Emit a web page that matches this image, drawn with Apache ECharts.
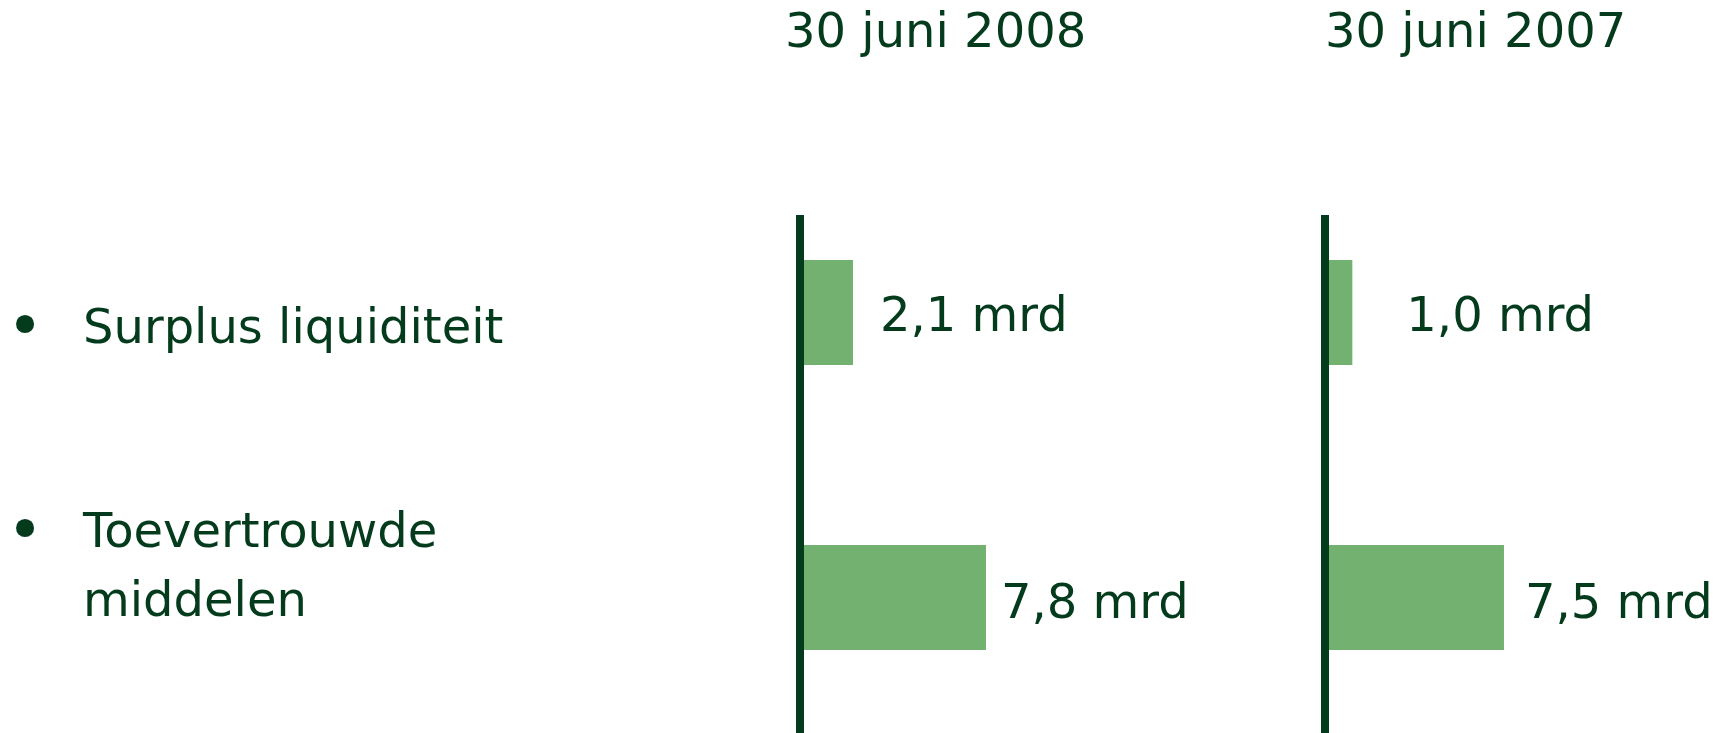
<!DOCTYPE html>
<html><head><meta charset="utf-8">
<script src="https://cdn.jsdelivr.net/npm/echarts@6/dist/echarts.min.js"></script>
<style>html,body{margin:0;padding:0;background:#fff}#c{width:1735px;height:733px}</style>
</head><body><div id="c"></div>
<script>
// ---- data ----
const categories = ['Surplus liquiditeit', 'Toevertrouwde\nmiddelen'];
const periods = ['30 juni 2008', '30 juni 2007'];
const values2008 = [2.1, 7.8];
const values2007 = [1.0, 7.5];
const unit = 'mrd';

// ---- style ----
const DARK = '#033b1c';
const BAR = '#72b16f';
const FONT = 'DejaVu Sans';
const FS = 48;
const LH = 68.5;
const SCALE_MAX = 10;
const SCALE_W = 233.3;
const labelDist2008 = [27, 15];
const labelDist2007 = [54, 21];
const labelDy = [6, 8];

const fmt = v => v.toFixed(1).replace('.', ',') + ' ' + unit;

function barData(vals, dists) {
  return vals.map((v, i) => ({ value: v, label: { distance: dists[i], offset: [0, labelDy[i]] } }));
}

const chart = echarts.init(document.getElementById('c'), null, { renderer: 'canvas' });

const catLabel = (value, idx) => {
  const lines = value.split('\n');
  let s = '{bul|•}{sp| }{txt|' + lines[0] + '}';
  for (let k = 1; k < lines.length; k++) s += '\n{ind| }{txt|' + lines[k] + '}';
  if (idx === 0) s = '{gapA| }\n' + s;
  else s = s + '\n{gapB| }';
  return s;
};

const axisLineStyle = { color: DARK, width: 8, cap: 'butt' };

const option = {
  animation: false,
  backgroundColor: '#ffffff',
  title: [
    { text: periods[0], left: 780, top: 6, textStyle: { color: DARK, fontSize: FS, fontWeight: 'normal', fontFamily: FONT } },
    { text: periods[1], left: 1320, top: 6, textStyle: { color: DARK, fontSize: FS, fontWeight: 'normal', fontFamily: FONT } }
  ],
  grid: [
    // bar grids
    { left: 804, top: 170, width: SCALE_W, height: 570, outerBoundsMode: 'none', containLabel: false },
    { left: 1329, top: 170, width: SCALE_W, height: 570, outerBoundsMode: 'none', containLabel: false },
    // axis-line grids
    { left: 800, top: 215, width: 100, bottom: 0, outerBoundsMode: 'none', containLabel: false },
    { left: 1325, top: 215, width: 100, bottom: 0, outerBoundsMode: 'none', containLabel: false }
  ],
  xAxis: [
    { gridIndex: 0, type: 'value', min: 0, max: SCALE_MAX, show: false },
    { gridIndex: 1, type: 'value', min: 0, max: SCALE_MAX, show: false },
    { gridIndex: 2, type: 'value', min: 0, max: SCALE_MAX, show: false },
    { gridIndex: 3, type: 'value', min: 0, max: SCALE_MAX, show: false }
  ],
  yAxis: [
    {
      gridIndex: 0, type: 'category', data: categories, inverse: true,
      axisLine: { show: false }, axisTick: { show: false }, splitLine: { show: false },
      axisLabel: {
        show: true, interval: 0, align: 'left', margin: 800,
        formatter: catLabel,
        rich: {
          bul: { fontSize: 62, fontFamily: FONT, color: DARK, width: 42, align: 'center', lineHeight: LH },
          sp: { fontSize: FS, width: 37, lineHeight: LH },
          ind: { fontSize: FS, width: 79, lineHeight: LH },
          txt: { fontSize: FS, fontFamily: FONT, color: DARK, lineHeight: LH },
          gapA: { fontSize: 10, lineHeight: 37 },
          gapB: { fontSize: 10, lineHeight: 56.5 }
        }
      }
    },
    {
      gridIndex: 1, type: 'category', data: categories, inverse: true,
      axisLine: { show: false }, axisTick: { show: false }, axisLabel: { show: false }, splitLine: { show: false }
    },
    {
      gridIndex: 2, type: 'category', data: categories, inverse: true,
      axisLine: { show: true, lineStyle: axisLineStyle },
      axisTick: { show: false }, axisLabel: { show: false }, splitLine: { show: false }
    },
    {
      gridIndex: 3, type: 'category', data: categories, inverse: true,
      axisLine: { show: true, lineStyle: axisLineStyle },
      axisTick: { show: false }, axisLabel: { show: false }, splitLine: { show: false }
    }
  ],
  series: [
    {
      type: 'bar', xAxisIndex: 0, yAxisIndex: 0, data: barData(values2008, labelDist2008),
      barWidth: 105, itemStyle: { color: BAR },
      label: { show: true, position: 'right', formatter: p => fmt(p.value), color: DARK, fontSize: FS, fontFamily: FONT }
    },
    {
      type: 'bar', xAxisIndex: 1, yAxisIndex: 1, data: barData(values2007, labelDist2007),
      barWidth: 105, itemStyle: { color: BAR },
      label: { show: true, position: 'right', formatter: p => fmt(p.value), color: DARK, fontSize: FS, fontFamily: FONT }
    }
  ]
};
chart.setOption(option);
</script>
</body></html>
